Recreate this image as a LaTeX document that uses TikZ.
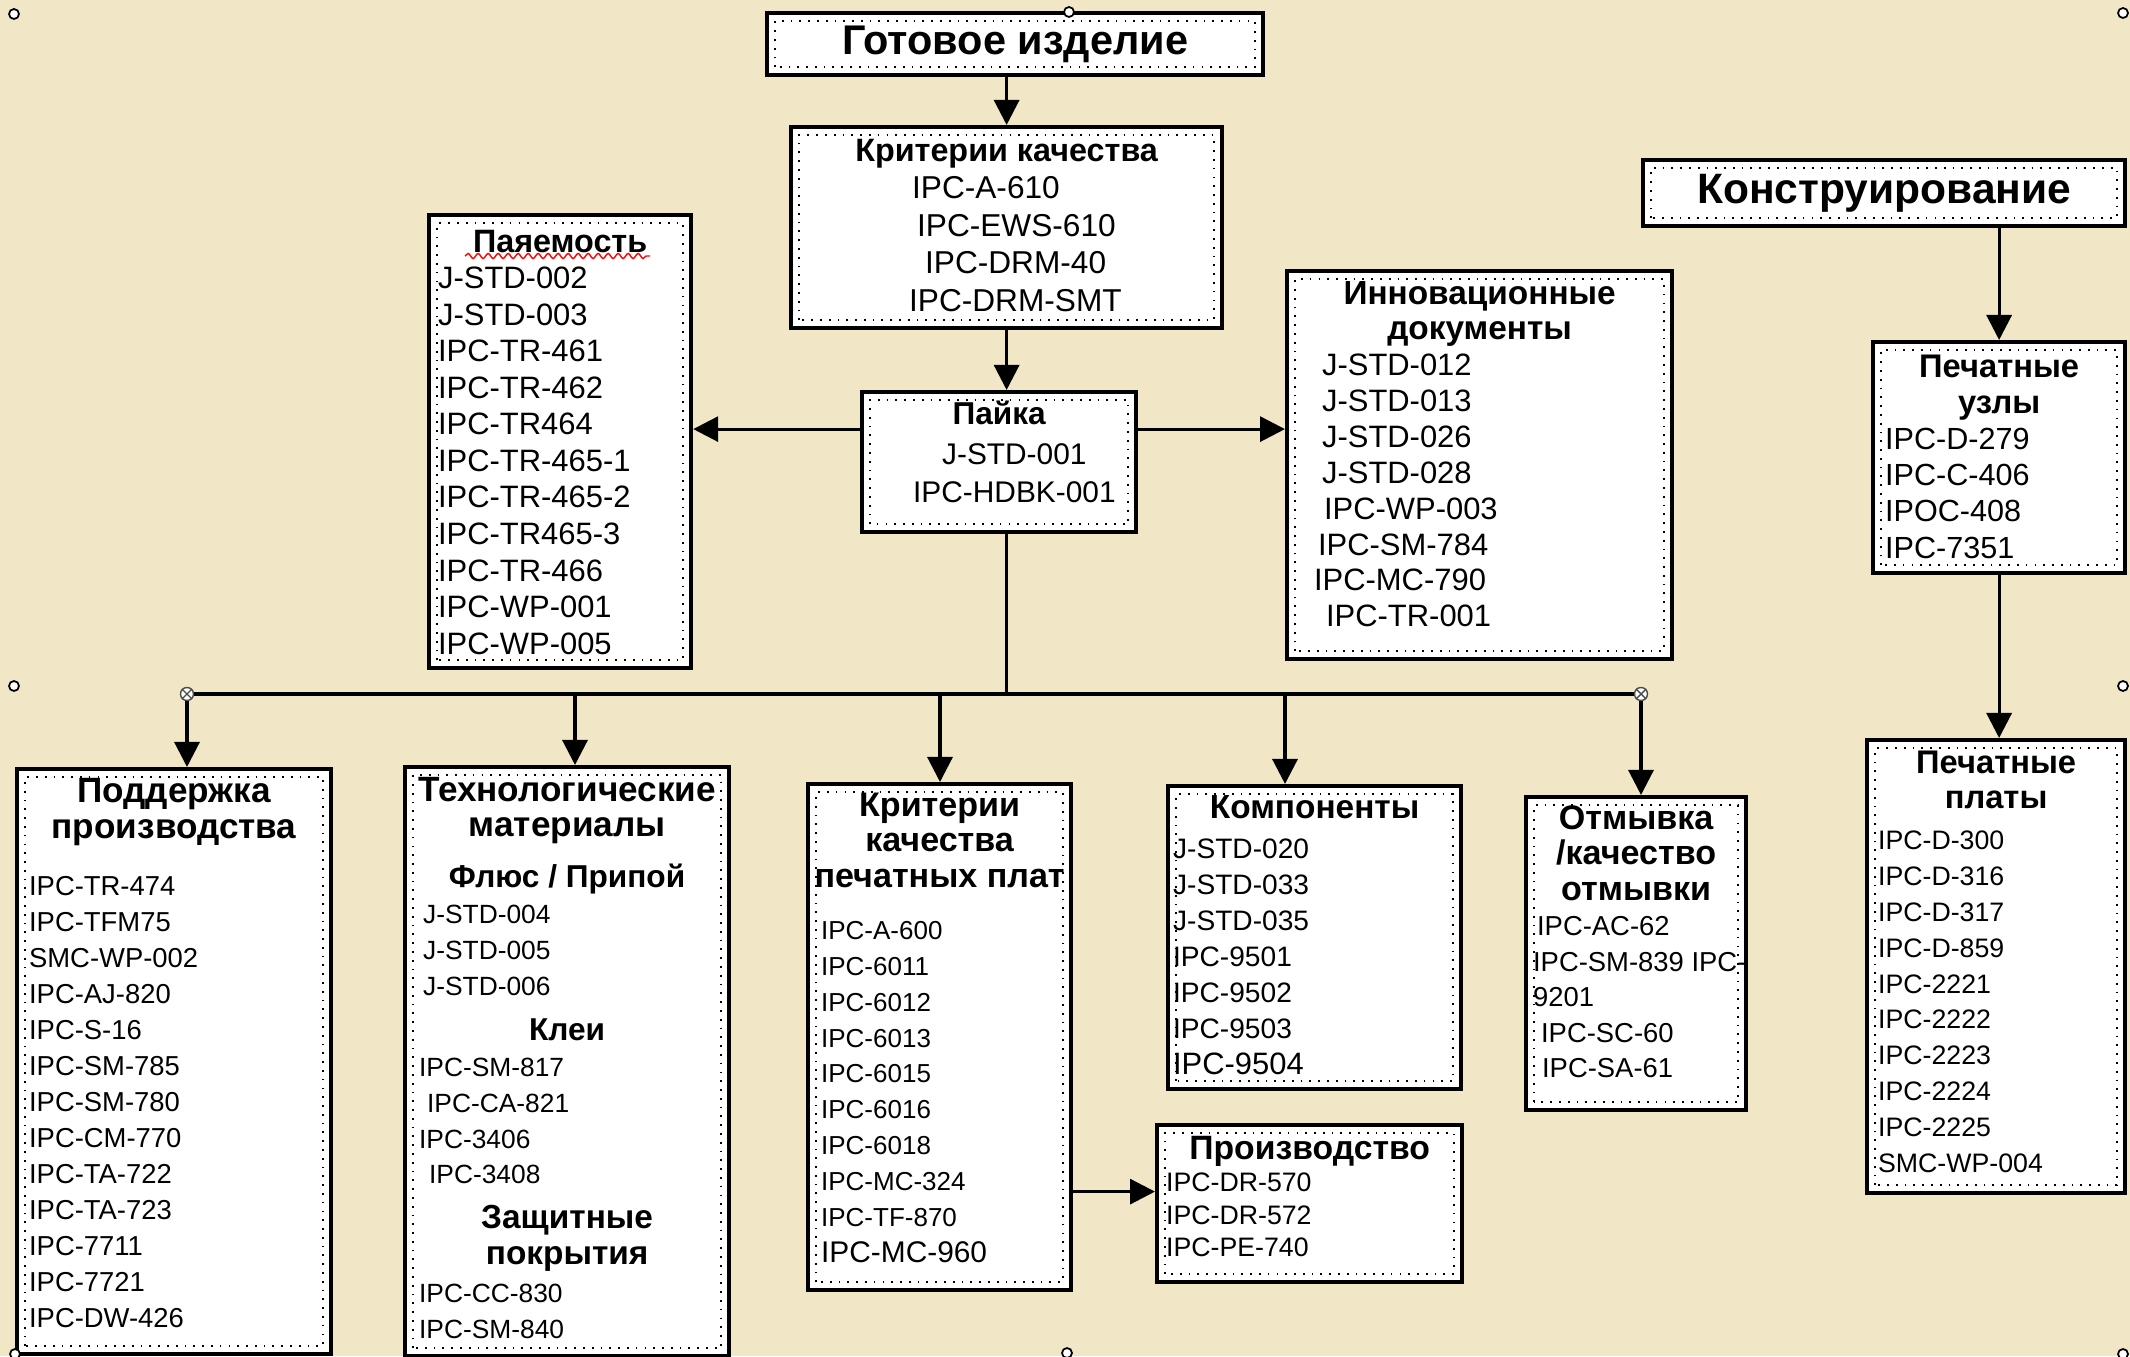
\documentclass[tikz,border=0pt]{standalone}
\usepackage{fontspec}
\setmainfont{Liberation Sans}
\usetikzlibrary{arrows.meta}
\usetikzlibrary{decorations.pathmorphing}
\definecolor{bg}{RGB}{241,231,199}
\newcommand{\fs}[2]{\fontsize{#1pt}{#2pt}\selectfont}
\newcommand{\ttl}[2]{{\centering\bfseries\fontsize{#1pt}{\the\baselineskip}\selectfont #2\par}}

\begin{document}
\begin{tikzpicture}[
box/.style = {draw, line width=1.2pt, fill=white, inner sep=0pt, anchor=north west,
            path picture={\draw[dotted, line width=0.5pt]
            ([shift={(0.08,0.08)}]path picture bounding box.south west) rectangle
            ([shift={(-0.08,-0.08)}]path picture bounding box.north east);}},
arr/.style = {line width=0.9pt, -{Triangle[length=2.5mm, width=2.5mm]}},
jn/.style = {circle, draw=black!70, fill=white, line width=0.4pt,
            minimum size=1.3mm, inner sep=0pt},
handle/.style = {circle, draw, fill=white, line width=0.5pt,
            minimum size=1mm, inner sep=0pt}
                ]
    \fill[bg] (0,0) rectangle (21.30,13.56);
    \useasboundingbox (0,0) rectangle (21.30,13.56);
    % top row
    \node[box] (gotovoe) at (7.65,13.45) {\parbox[c][0.62cm][c]{4.96cm}{\centering\bfseries\fs{11.8}{13}Готовое изделие}};
    \node[box] (kriterii) at (7.89,12.31) {\parbox[c][2.01cm][t]{4.31cm}{\fs{9}{10.7}
        \ttl{9.2}{\rule{0pt}{3.4mm}Критерии качества}
        \leftskip=11.8mm
        \hspace*{0.3mm}IPC-A-610\\ \hspace*{0.8mm}IPC-EWS-610\\ \hspace*{1.6mm}IPC-DRM-40\\ IPC-DRM-SMT}};
    \node[box] (payaem) at (4.27,11.43) {\parbox[c][4.53cm][t]{2.62cm}{\fs{8.8}{10.4}
        \ttl{9.2}{\rule{0pt}{3.7mm}Паяемость}
        \leftskip=0.9mm
        J-STD-002\\ J-STD-003\\ IPC-TR-461\\ IPC-TR-462\\ IPC-TR464\\ IPC-TR-465-1\\
        IPC-TR-465-2\\ IPC-TR465-3\\ IPC-TR-466\\ IPC-WP-001\\ IPC-WP-005}};
    \draw[red, decorate, decoration={snake, amplitude=0.25mm, segment length=1mm}]
        ([shift={(0.38,-0.43)}]payaem.north west) -- ([shift={(2.23,-0.43)}]payaem.north west);
    \node[box] (payka) at (8.60,9.66) {\parbox[c][1.40cm][t]{2.74cm}{\fs{8.5}{10.8}
        \ttl{9}{\rule{0pt}{3.2mm}Пайка}
        \vspace{0.8pt}
        \leftskip=5.1mm
        \hspace*{2.9mm}J-STD-001\\ IPC-HDBK-001}};
    \node[box] (innov) at (12.85,10.87) {\parbox[c][3.88cm][t]{3.85cm}{\fs{8.8}{10.2}
        \ttl{9.5}{\rule{0pt}{3.3mm}Инновационные\\ документы}
        \leftskip=2.7mm
        \hspace*{0.8mm}J-STD-012\\ \hspace*{0.8mm}J-STD-013\\ \hspace*{0.8mm}J-STD-026\\
        \hspace*{0.8mm}J-STD-028\\ \hspace*{1mm}IPC-WP-003\\ \hspace*{0.4mm}IPC-SM-784\\
        IPC-MC-790\\ \hspace*{1.2mm}IPC-TR-001}};
    \node[box] (konstr) at (16.41,11.98) {\parbox[c][0.66cm][c]{4.82cm}{\centering\bfseries\fs{12.1}{14}Конструирование}};
    \node[box] (uzly) at (18.71,10.16) {\parbox[c][2.31cm][t]{2.52cm}{\fs{8.7}{10.3}
        \ttl{9.3}{\rule{0pt}{3.5mm}Печатные\\ узлы}
        \leftskip=1.2mm
        IPC-D-279\\ IPC-C-406\\ IPOC-408\\ IPC-7351}};
    \node[box] (platy) at (18.65,6.18) {\parbox[c][4.53cm][t]{2.58cm}{\fs{7.6}{10.2}
        \ttl{9.3}{\rule{0pt}{3.3mm}Печатные\\ платы}
        \vspace{1.4pt}
        \leftskip=1.1mm
        IPC-D-300\\ IPC-D-316\\ IPC-D-317\\ IPC-D-859\\ IPC-2221\\ IPC-2222\\
        IPC-2223\\ IPC-2224\\ IPC-2225\\ SMC-WP-004}};
    % bottom row
    \node[box] (podderzh) at (0.15,5.89) {\parbox[c][5.85cm][t]{3.14cm}{\fs{7.8}{10.25}
        \ttl{10}{\rule{0pt}{3.3mm}Поддержка\\ производства}
        \vspace{6pt}
        \leftskip=1.2mm
        IPC-TR-474\\ IPC-TFM75\\ SMC-WP-002\\ IPC-AJ-820\\ IPC-S-16\\ IPC-SM-785\\
        IPC-SM-780\\ IPC-CM-770\\ IPC-TA-722\\ IPC-TA-723\\ IPC-7711\\ IPC-7721\\ IPC-DW-426}};
    \node[box] (tehmat) at (4.03,5.91) {\parbox[c][5.89cm][t]{3.24cm}{\fs{7.5}{10.2}
        \ttl{10}{\rule{0pt}{3.4mm}Технологические\\ материалы}
        \vspace{4.3pt}
        \ttl{9}{Флюс / Припой}
        \leftskip=1.4mm
        \hspace*{0.4mm}J-STD-004\\ \hspace*{0.4mm}J-STD-005\\ \hspace*{0.4mm}J-STD-006\par
        \vspace{2.6pt}
        \ttl{9}{Клеи}
        IPC-SM-817\\ \hspace*{0.8mm}IPC-CA-821\\ IPC-3406\\ \hspace*{1mm}IPC-3408\par
        \vspace{2.6pt}
        \ttl{9.5}{Защитные\\ покрытия}
        \vspace{0.6pt}
        IPC-CC-830\\ IPC-SM-840}};
    \node[box] (kritpp) at (8.06,5.74) {\parbox[c][5.06cm][t]{2.63cm}{\fs{7.4}{10.2}
        \ttl{9.7}{\rule{0pt}{3.2mm}Критерии\\ качества\\ печатных плат}
        \vspace{4.5pt}
        \leftskip=1.3mm
        IPC-A-600\\ IPC-6011\\ IPC-6012\\ IPC-6013\\ IPC-6015\\ IPC-6016\\ IPC-6018\\
        IPC-MC-324\\ IPC-TF-870\\ {\fs{8.5}{10.2}IPC-MC-960}}};
    \node[box] (komp) at (11.66,5.72) {\parbox[c][3.03cm][t]{2.93cm}{\fs{8}{10.25}
        \ttl{9.5}{\rule{0pt}{3.2mm}Компоненты}
        \vspace{1.1pt}
        \leftskip=0.5mm
        J-STD-020\\ J-STD-033\\ J-STD-035\\ IPC-9501\\ IPC-9502\\ IPC-9503\\ {\fs{8.8}{10.25}IPC-9504}}};
    \node[box] (otmyv) at (15.24,5.61) {\parbox[c][3.13cm][t]{2.20cm}{\fs{7.8}{10.1}
        \ttl{9.7}{\rule{0pt}{3.2mm}Отмывка\\ /качество\\ отмывки}
        \leftskip=0.7mm
        \hspace*{0.4mm}IPC-AC-62\\ \mbox{IPC-SM-839 IPC-}\\ 9201\\ \hspace*{0.8mm}IPC-SC-60\\ \hspace*{0.9mm}IPC-SA-61}};
    \node[box] (proizv) at (11.55,2.33) {\parbox[c][1.57cm][t]{3.05cm}{\fs{7.6}{9.25}
        \ttl{9.6}{\rule{0pt}{3.4mm}Производство}
        \leftskip=0.9mm
        IPC-DR-570\\ IPC-DR-572\\ IPC-PE-740}};
    % connectors
    \draw[arr] (kriterii.north |- gotovoe.south) -- (kriterii.north);
    \draw[arr] (kriterii.south) -- (kriterii.south |- payka.north);
    \draw[arr] ([yshift=3.3mm]payka.west) -- ([yshift=3.3mm]payka.west -| payaem.east);
    \draw[arr] ([yshift=3.3mm]payka.east) -- ([yshift=3.3mm]payka.east -| innov.west);
    \coordinate (busl) at (1.87,6.62);
    \coordinate (busr) at (16.41,6.62);
    \draw[line width=0.9pt] (kriterii.south |- payka.south) -- (kriterii.south |- busl);
    \draw[line width=0.9pt] (busl) -- (busr);
    \foreach \x/\n in {1.87/podderzh, 5.75/tehmat, 9.40/kritpp, 12.85/komp, 16.41/otmyv}
        {\coordinate (b\n) at (\x,6.62);
         \draw[arr] (b\n) -- (b\n |- \n.north);}
    \draw[arr] ([yshift=1.2mm]proizv.west -| kritpp.east) -- ([yshift=1.2mm]proizv.west);
    \draw[arr] (uzly.north |- konstr.south) -- (uzly.north);
    \draw[arr] (uzly.south) -- (uzly.south |- platy.north);
    % end marks of the bus
    \foreach \c in {busl, busr}
        {\node[jn] (j\c) at (\c) {};
         \draw[black!70, line width=0.4pt] (j\c.north east) -- (j\c.south west)
             (j\c.north west) -- (j\c.south east);}
    % selection handles
    \foreach \x/\y [count=\i] in {0.14/13.42, 10.69/13.44, 21.23/13.43, 0.14/6.70,
                                 21.23/6.70, 0.15/0.02, 10.67/0.03, 21.23/0.02}
        \node[handle] (h\i) at (\x,\y) {};
\end{tikzpicture}
\end{document}
